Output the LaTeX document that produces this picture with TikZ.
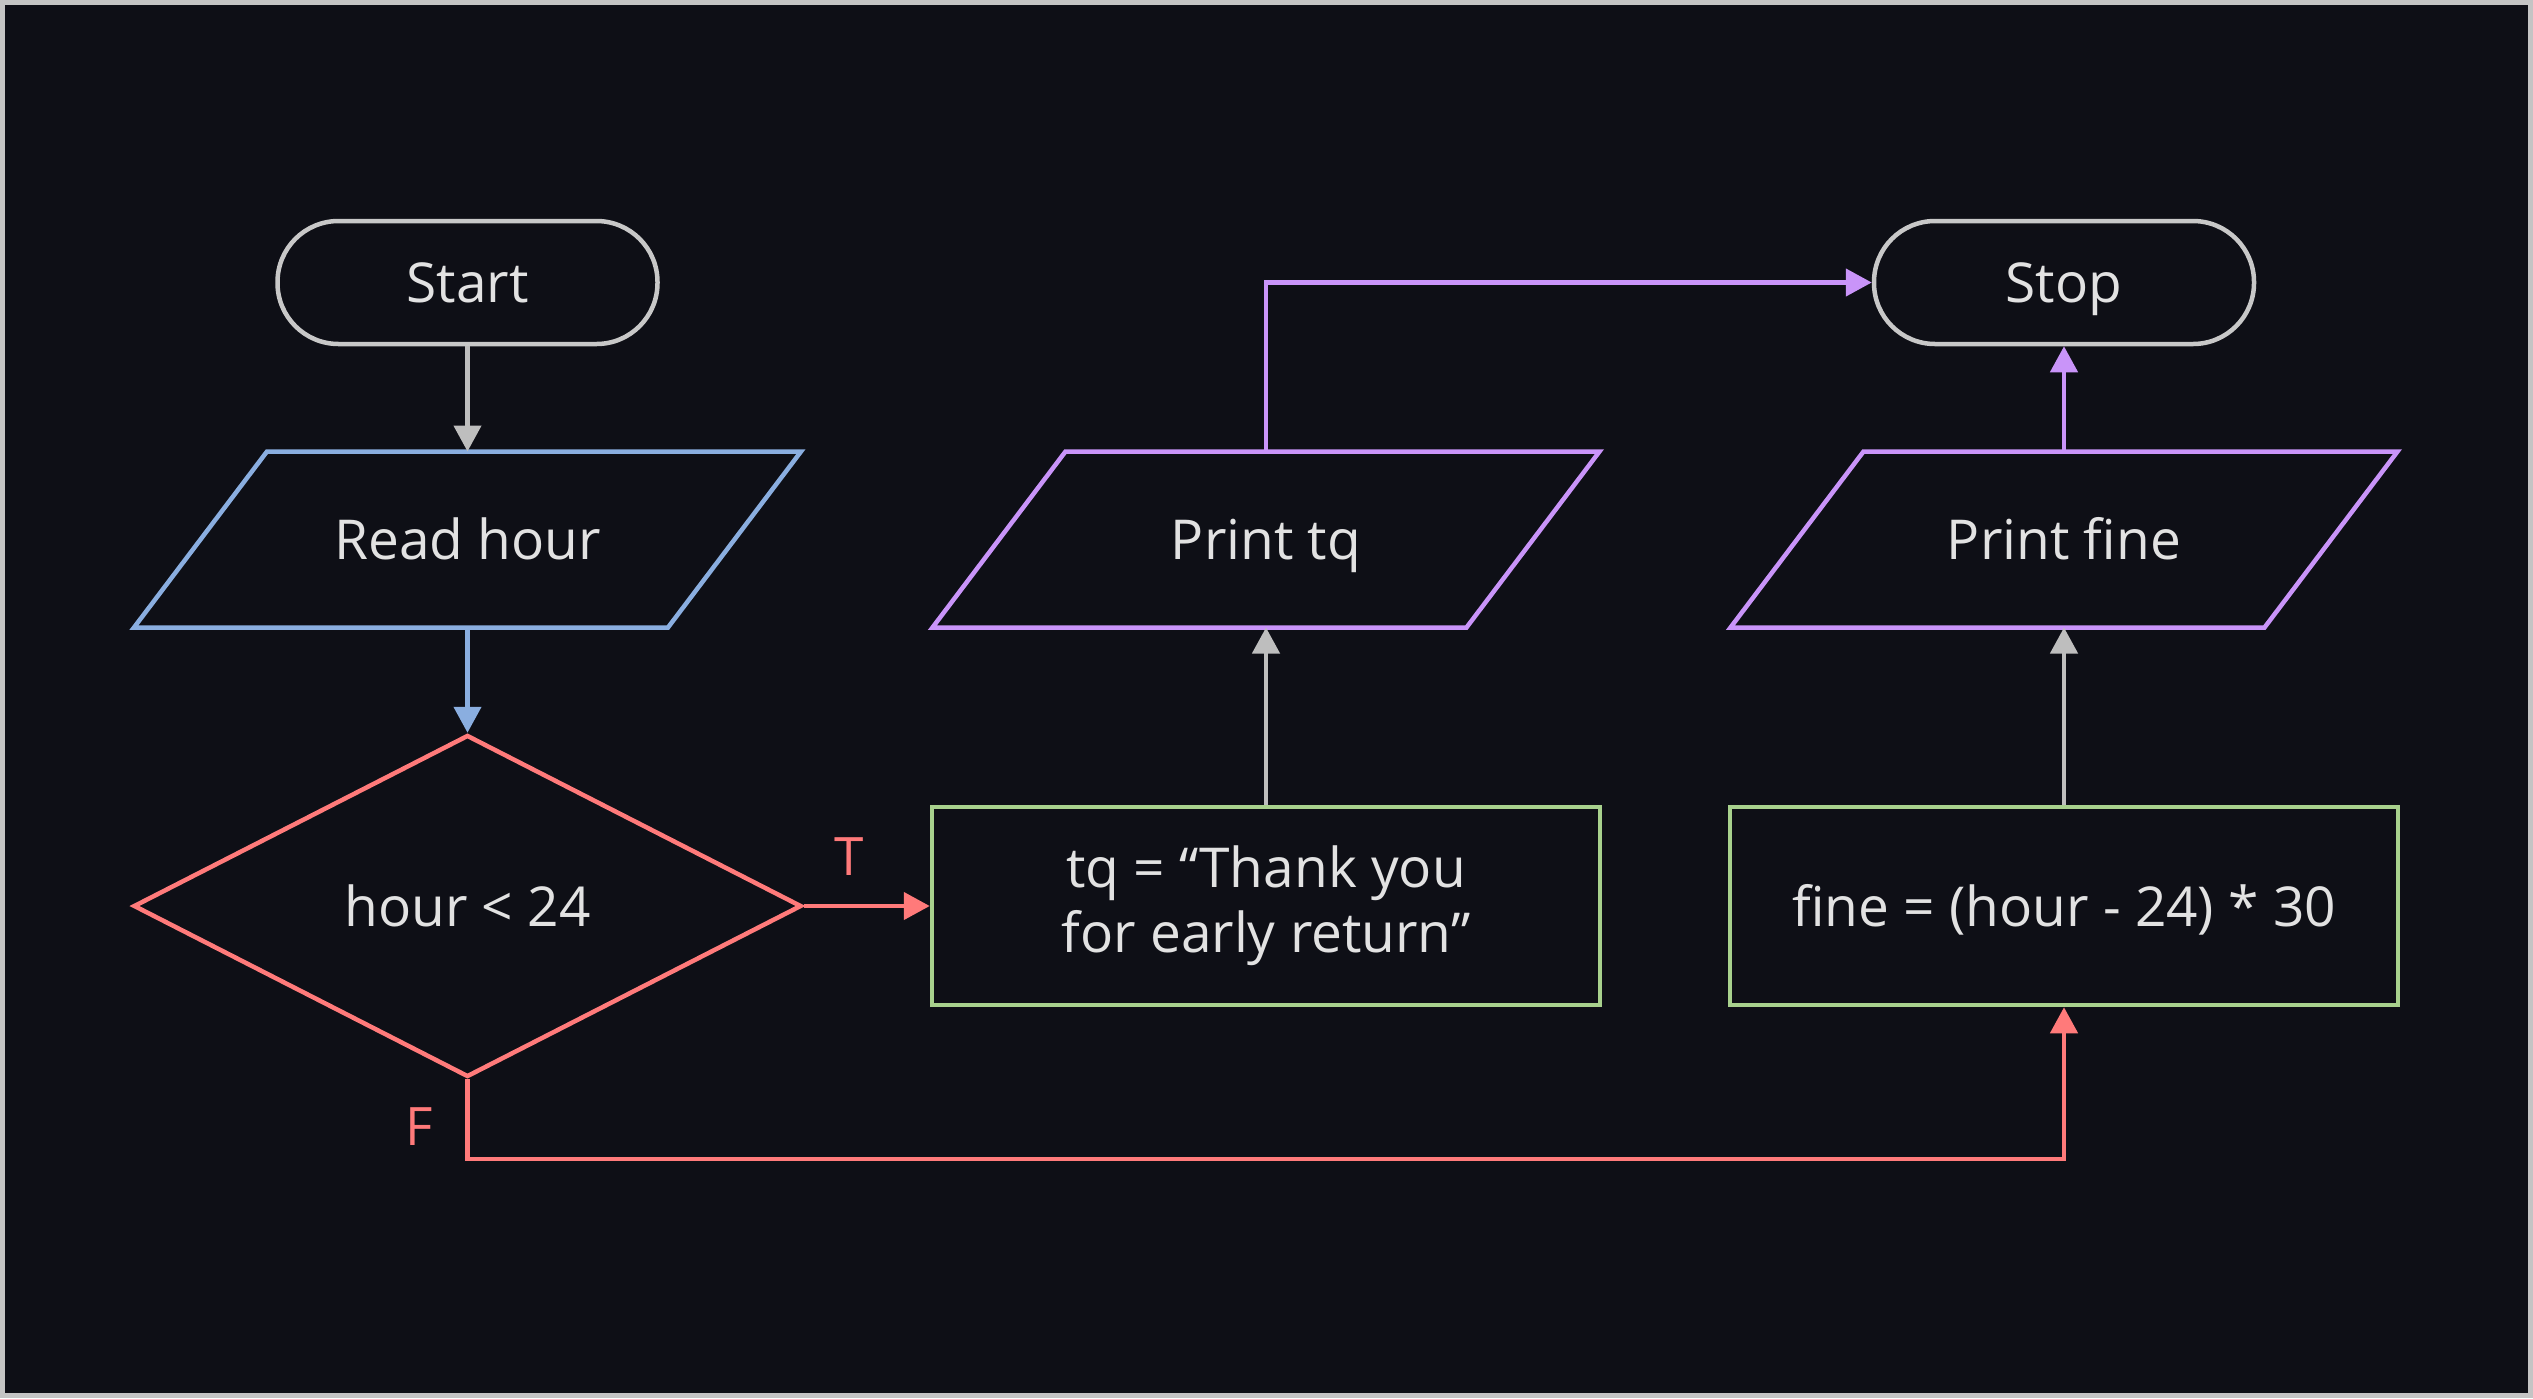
\documentclass[tikz,border=0pt]{standalone}
\usepackage{fontspec}
\setmainfont{Open Sans}
\usetikzlibrary{arrows.meta,shapes.geometric}
\definecolor{bgC}{HTML}{0E0F16}
\definecolor{frameC}{HTML}{C4C4C4}
\definecolor{termC}{HTML}{C8C8C8}
\definecolor{grayC}{HTML}{BEBEBE}
\definecolor{txtC}{HTML}{E2E2E2}
\definecolor{blueC}{HTML}{8AAEE0}
\definecolor{redC}{HTML}{FF7A7A}
\definecolor{greenC}{HTML}{A8D18D}
\definecolor{purpleC}{HTML}{C994F9}
\newcommand{\paraout}[2]{\draw[#1] ([xshift=66.5pt]#2.north west) -- ([xshift=66.5pt]#2.north east) -- ([xshift=-66.5pt]#2.south east) -- ([xshift=-66.5pt]#2.south west) -- cycle;}
\begin{document}
\begin{tikzpicture}[x=1pt,y=-1pt,line width=4.5pt,
  every node/.style={text=txtC,font=\fontsize{55}{65}\selectfont},
  cc/.style={text height=40pt,text depth=0pt},
  term/.style={draw=termC,rounded corners=61pt,minimum width=380pt,minimum height=123pt,inner sep=0pt,cc},
  iobox/.style={minimum width=534pt,minimum height=176pt,inner sep=0pt,outer sep=0pt,cc},
  procbox/.style={draw=greenC,minimum width=668pt,minimum height=198pt,inner sep=0pt,align=center},
  decbox/.style={draw=redC,diamond,minimum width=668pt,minimum height=342pt,inner sep=0pt,cc},
  conn/.style={-{Triangle[length=26pt,width=27pt]}},
  lbl/.style={text=redC,font=\fontsize{53}{60}\selectfont,cc}
]
\useasboundingbox (0,0) rectangle (2533,1398);
\fill[frameC] (0,0) rectangle (2533,1398);
\fill[bgC] (5,5) rectangle (2528,1393);

\node[term] (start) at (467.5,282.5) {Start};
\node[iobox] (rh) at (467.5,539.5) {Read hour};
\paraout{blueC}{rh}
\node[decbox] (dec) at (467.5,906) {hour < 24};
\node[procbox] (tq) at (1266,906) {tq = “Thank you\\for early return”};
\node[iobox] (ptq) at (1266,539.5) {Print tq};
\paraout{purpleC}{ptq}
\node[term] (stop) at (2064,282.5) {Stop};
\node[iobox] (pf) at (2064,539.5) {Print fine};
\paraout{purpleC}{pf}
\node[procbox,cc] (fine) at (2064,906) {fine = (hour - 24) * 30};
\node[lbl] (tl) at (849,855) {T};
\node[lbl] (fl) at (419,1125) {F};
\coordinate (fc) at (467.5,1159);

\draw[conn,grayC] (start) -- (rh);
\draw[conn,blueC] (rh) -- (dec);
\draw[conn,redC] (dec.east) -- (tq.west);
\draw[conn,grayC] (tq) -- (ptq);
\draw[conn,purpleC] (ptq.north) |- (stop.west);
\draw[conn,grayC] (fine) -- (pf);
\draw[conn,purpleC] (pf) -- (stop);
\draw[conn,redC] (dec.south) -- (fc) -| (fine.south);
\end{tikzpicture}
\end{document}
